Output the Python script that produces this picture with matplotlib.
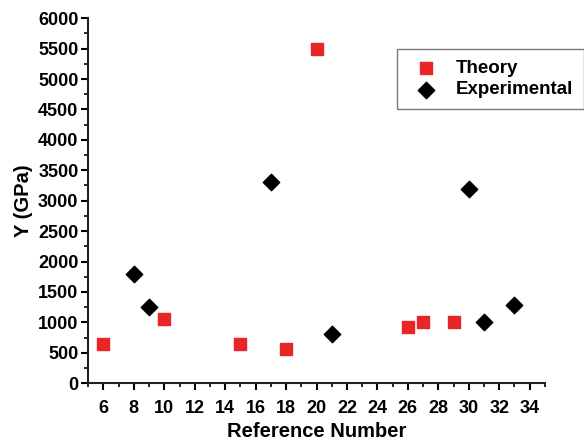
import matplotlib
matplotlib.use("Agg")
import matplotlib.pyplot as plt
from matplotlib.ticker import MultipleLocator

plt.rcParams['font.family'] = ['Liberation Sans', 'DejaVu Sans']
plt.rcParams['font.weight'] = 'bold'

theory_x = [6, 10, 15, 18, 20, 26, 27, 29]
theory_y = [640, 1060, 650, 560, 5500, 930, 1000, 1000]
exp_x = [8, 9, 17, 21, 30, 31, 33]
exp_y = [1800, 1250, 3300, 810, 3200, 1000, 1280]

fig = plt.figure(figsize=(5.84, 4.44), dpi=100)
ax = fig.add_axes([0.151, 0.137, 0.782, 0.822])

ax.scatter(theory_x, theory_y, marker='s', s=65, color='#e8262a', label='Theory', zorder=3)
ax.scatter(exp_x, exp_y, marker='D', s=70, color='black', label='Experimental', zorder=3)

ax.set_xlim(5, 35)
ax.set_ylim(0, 6000)
ax.xaxis.set_minor_locator(MultipleLocator(1))
ax.yaxis.set_major_locator(MultipleLocator(500))
ax.yaxis.set_minor_locator(MultipleLocator(250))
ax.set_xticks(range(6, 35, 2))

for side in ['top', 'right']:
    ax.spines[side].set_visible(False)
for side in ['left', 'bottom']:
    ax.spines[side].set_linewidth(1.5)
    ax.spines[side].set_color('#222222')

ax.tick_params(which='major', direction='out', length=5, width=1.5, labelsize=13, pad=2)
ax.tick_params(which='minor', direction='out', length=3, width=1.2)
ax.tick_params(axis='x', which='major', pad=7)

ax.set_xlabel('Reference Number', fontsize=14.5, fontweight='bold', labelpad=4)
ax.set_ylabel('Y (GPa)', fontsize=14.5, fontweight='bold', labelpad=4)

leg = ax.legend(loc='upper left', bbox_to_anchor=(0.676, 0.915), fontsize=13.5,
                frameon=True, fancybox=False, edgecolor='#555555', borderaxespad=0,
                handletextpad=0.6, borderpad=0.55, labelspacing=0.25, handlelength=2.0)
leg.get_frame().set_linewidth(1.0)

fig.savefig('out.png', dpi=100)
